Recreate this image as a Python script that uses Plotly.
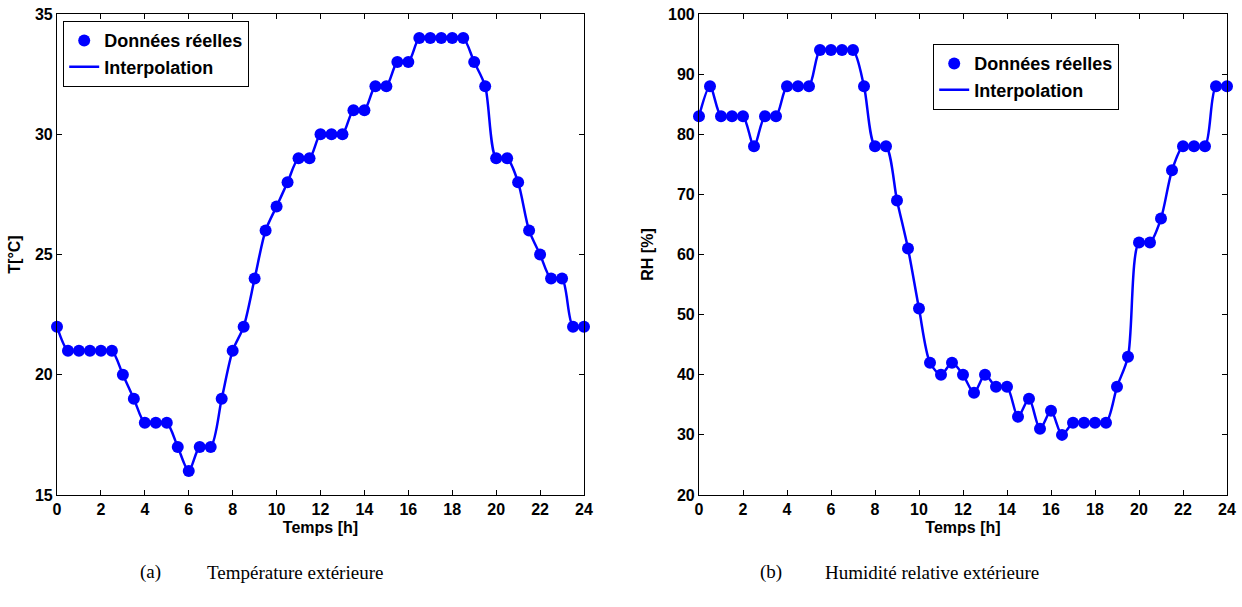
import plotly.graph_objects as go

hours = [i * 0.5 for i in range(49)]
temperature = [22, 21, 21, 21, 21, 21, 20, 19, 18, 18, 18, 17, 16, 17, 17, 19, 21, 22, 24, 26,
               27, 28, 29, 29, 30, 30, 30, 31, 31, 32, 32, 33, 33, 34, 34, 34, 34, 34, 33, 32,
               29, 29, 28, 26, 25, 24, 24, 22, 22]
humidity = [83, 88, 83, 83, 83, 78, 83, 83, 88, 88, 88, 94, 94, 94, 94, 88, 78, 78, 69, 61,
            51, 42, 40, 42, 40, 37, 40, 38, 38, 33, 36, 31, 34, 30, 32, 32, 32, 32, 38, 43,
            62, 62, 66, 74, 78, 78, 78, 88, 88]
x_ticks = list(range(0, 25, 2))
t_ticks = [15, 20, 25, 30, 35]
rh_ticks = [20, 30, 40, 50, 60, 70, 80, 90, 100]
series_names = ["Données réelles", "Interpolation"]
captions = ["(a)", "Température extérieure", "(b)", "Humidité relative extérieure"]

W, H = 1242, 607
BLUE = "#0000FF"
FONT = "Liberation Sans"

fig = go.Figure()

for i, (vals, xa, ya, leg) in enumerate([(temperature, "x", "y", "legend"),
                                           (humidity, "x2", "y2", "legend2")]):
    fig.add_trace(go.Scatter(x=hours, y=vals, mode="markers", name=series_names[0],
                             marker=dict(color=BLUE, size=12), xaxis=xa, yaxis=ya,
                             legend=leg, cliponaxis=False))
    fig.add_trace(go.Scatter(x=hours, y=vals, mode="lines", name=series_names[1],
                             line=dict(color=BLUE, width=2.5, shape="spline", smoothing=0.8),
                             xaxis=xa, yaxis=ya, legend=leg, cliponaxis=False))

def px_x(p):
    return p / W

def px_y(p):
    return 1 - p / H

axis_common = dict(showgrid=False, zeroline=False, showline=True, linecolor="black",
                   linewidth=1.2, mirror="ticks", ticks="inside", ticklen=5, tickwidth=1,
                   tickcolor="black", automargin=False,
                   tickfont=dict(family=FONT, size=16, color="black", weight="bold"))

legend_font = dict(family=FONT, size=18, color="black", weight="bold")

fig.update_layout(
    width=W, height=H,
    margin=dict(l=0, r=0, t=0, b=0, autoexpand=False),
    paper_bgcolor="white", plot_bgcolor="white",
    xaxis=dict(domain=[px_x(57), px_x(584)], range=[0, 24], tickvals=x_ticks,
               anchor="y",
               title=dict(text="Temps [h]", standoff=4,
                          font=dict(family=FONT, size=16, color="black", weight="bold")),
               **axis_common),
    yaxis=dict(domain=[px_y(495), px_y(14)], range=[15, 35], tickvals=t_ticks,
               anchor="x",
               title=dict(text="T[°C]", standoff=10,
                          font=dict(family=FONT, size=16, color="black", weight="bold")),
               **axis_common),
    xaxis2=dict(domain=[px_x(699), px_x(1227)], range=[0, 24], tickvals=x_ticks,
                anchor="y2",
                title=dict(text="Temps [h]", standoff=4,
                           font=dict(family=FONT, size=16, color="black", weight="bold")),
                **axis_common),
    yaxis2=dict(domain=[px_y(495), px_y(14)], range=[20, 100], tickvals=rh_ticks,
                anchor="x2",
                title=dict(text="RH [%]", standoff=10,
                           font=dict(family=FONT, size=16, color="black", weight="bold")),
                **axis_common),
    legend=dict(x=px_x(63), y=px_y(21), xanchor="left", yanchor="top",
                bgcolor="white", bordercolor="black", borderwidth=1.2,
                font=legend_font, tracegroupgap=0, itemwidth=30),
    legend2=dict(x=px_x(933), y=px_y(44), xanchor="left", yanchor="top",
                 bgcolor="white", bordercolor="black", borderwidth=1.2,
                 font=legend_font, tracegroupgap=0, itemwidth=30),
    showlegend=True,
)

cap_font = dict(family="Liberation Serif", size=19, color="black")
for text, xc in [(captions[0], 150), (captions[2], 771)]:
    fig.add_annotation(text=text, x=px_x(xc), y=px_y(572), xref="paper", yref="paper",
                       xanchor="center", yanchor="middle", showarrow=False, font=cap_font)
for text, xl in [(captions[1], 205), (captions[3], 823)]:
    fig.add_annotation(text=text, x=px_x(xl), y=px_y(572), xref="paper", yref="paper",
                       xanchor="left", yanchor="middle", showarrow=False, font=cap_font)

fig.write_html("out.html", config={"displayModeBar": False},
               post_script="document.body.style.margin='0';document.body.style.overflow='hidden';")
